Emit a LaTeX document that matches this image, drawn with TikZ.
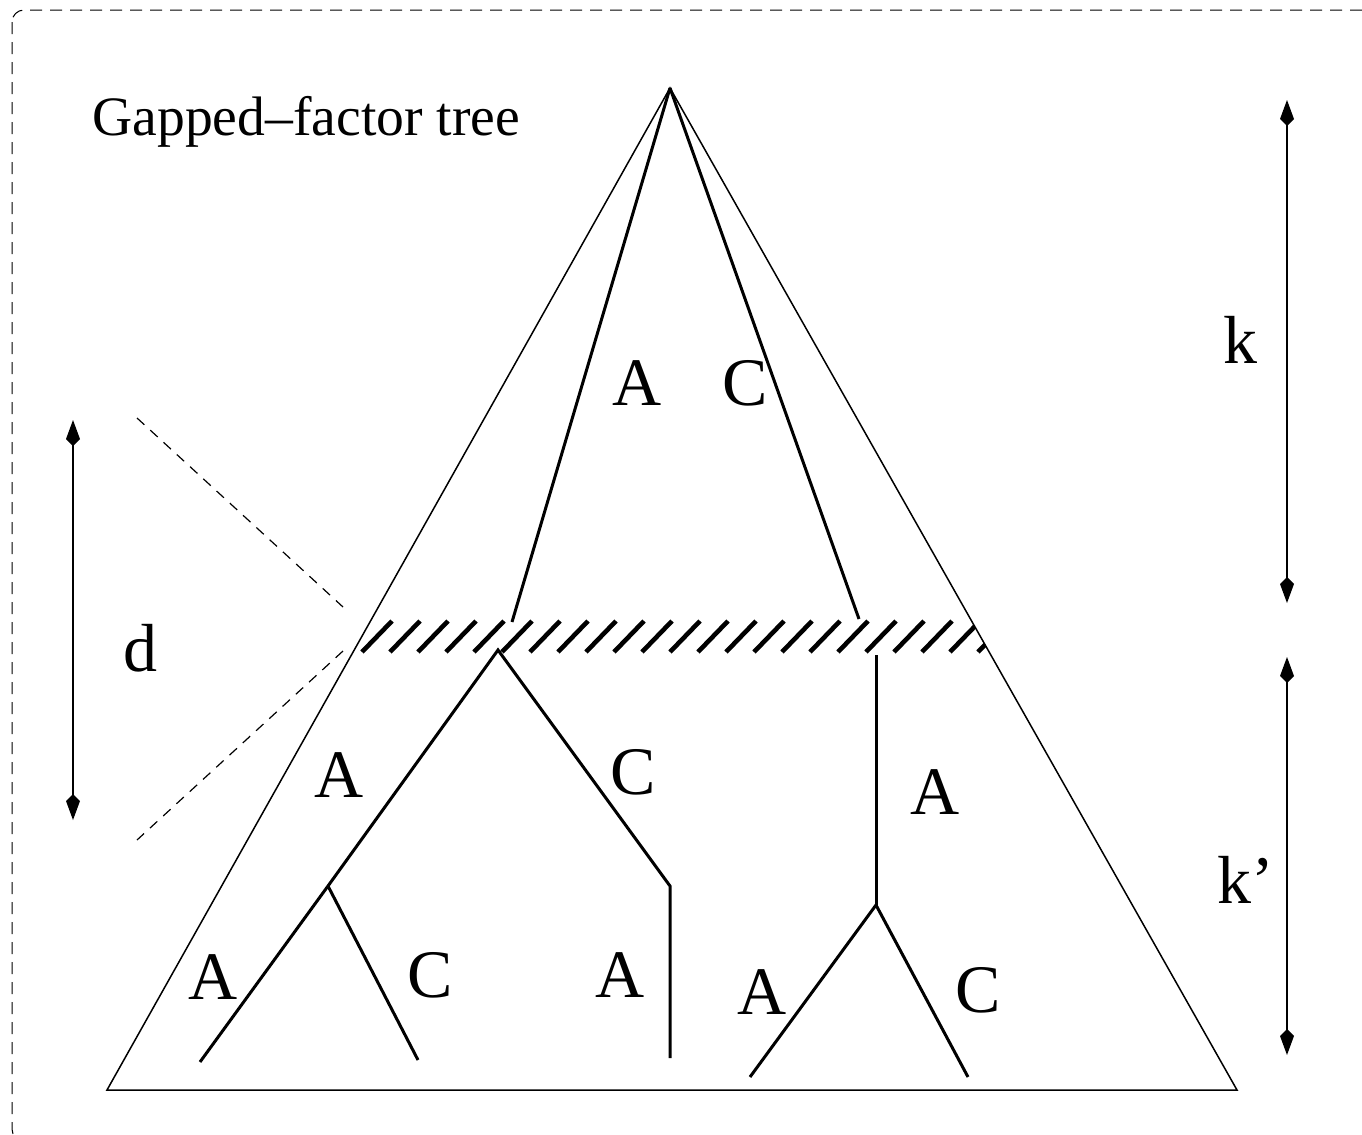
\documentclass[tikz,border=0pt]{standalone}
\usepackage{fontspec}
\setmainfont{Liberation Serif}
\usetikzlibrary{arrows.meta}
\begin{document}
\begin{tikzpicture}[x=0.5pt,y=-0.5pt,
  outline/.style={line width=0.75pt, line join=miter},
  branch/.style={line width=1.5pt, line join=miter},
  hatchline/.style={line width=2.3pt},
  guide/.style={line width=0.6pt, dash pattern=on 5pt off 4pt},
  frame/.style={line width=0.5pt, dash pattern=on 6pt off 4pt, rounded corners=6pt},
  dim/.style={line width=1pt, {Kite[length=13pt,width=7pt,inset=3.5pt]}-{Kite[length=13pt,width=7pt,inset=3.5pt]}},
  lbl/.style={font=\fontsize{34}{40}\selectfont, inner sep=0pt},
  title/.style={font=\fontsize{27.8}{32}\selectfont, inner sep=0pt, anchor=base west}]
\useasboundingbox (0,0) rectangle (1362,1135);
\draw[frame] (12,10) rectangle (1420,1141);

% big triangle
\coordinate (apex) at (670,88);
\coordinate (bl) at (107,1090);
\coordinate (br) at (1237,1090);
\draw[outline] (bl) -- (apex) -- (br) -- cycle;

% hatched band
\begin{scope}
  \clip (bl) -- (apex) -- (br) -- cycle;
  \foreach \x in {334,362,...,980} {
    \draw[hatchline] (\x,652) -- (\x+30,621);
  }
\end{scope}

% upper branches
\coordinate (ua) at (512,622);
\coordinate (uc) at (859,619);
\draw[branch] (apex) -- (ua);
\draw[branch] (apex) -- (uc);

% lower left tree
\coordinate (lroot) at (498,650);
\coordinate (lmid) at (328,886);
\coordinate (lleafA) at (200,1062);
\coordinate (lleafC) at (418,1060);
\coordinate (lbend) at (670,886);
\coordinate (lleafA2) at (670,1058);
\draw[branch] (lleafA) -- (lmid) -- (lroot) -- (lbend) -- (lleafA2);
\draw[branch] (lmid) -- (lleafC);

% lower right tree
\coordinate (rroot) at (876,655);
\coordinate (rmid) at (876,905);
\coordinate (rleafA) at (750,1077);
\coordinate (rleafC) at (968,1077);
\draw[branch] (rroot) -- (rmid);
\draw[branch] (rleafA) -- (rmid) -- (rleafC);

% dashed guides
\coordinate (g1) at (137,418);
\coordinate (g2) at (343,607);
\coordinate (g3) at (343,651);
\coordinate (g4) at (137,840);
\draw[guide] (g1) -- (g2);
\draw[guide] (g3) -- (g4);

% dimension arrows
\coordinate (dtop) at (73,420);
\coordinate (dbot) at (73,820);
\coordinate (ktop) at (1287,100);
\coordinate (kbot) at (1287,603);
\coordinate (k2top) at (1287,657);
\coordinate (k2bot) at (1287,1055);
\draw[dim] (dtop) -- (dbot);
\draw[dim] (ktop) -- (kbot);
\draw[dim] (k2top) -- (k2bot);

% labels
\node[title] (ttl) at (92,135) {Gapped--factor tree};
\node[lbl] (lk) at (1240,340) {k};
\node[lbl] (lk2) at (1246,880) {k'};
\node[lbl] (ld) at (140,648) {d};
\node[lbl] (uA) at (637,383) {A};
\node[lbl] (uC) at (745,383) {C};
\node[lbl] (mA) at (339,775) {A};
\node[lbl] (mC) at (633,772) {C};
\node[lbl] (mA2) at (935,792) {A};
\node[lbl] (bA) at (213,977) {A};
\node[lbl] (bC) at (430,975) {C};
\node[lbl] (bA2) at (620,975) {A};
\node[lbl] (bA3) at (762,992) {A};
\node[lbl] (bC2) at (978,990) {C};
\end{tikzpicture}
\end{document}
